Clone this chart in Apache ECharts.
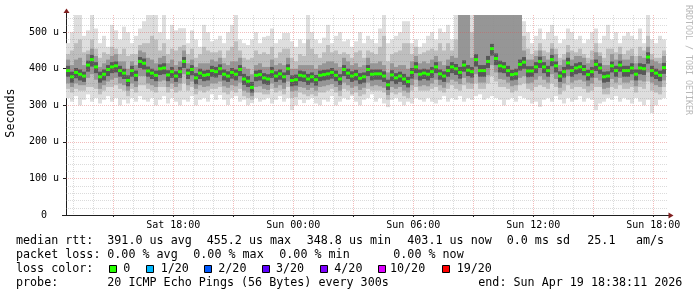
<!DOCTYPE html>
<html><head><meta charset="utf-8">
<script src="https://cdn.jsdelivr.net/npm/echarts@6/dist/echarts.min.js"></script>
<style>html,body{margin:0;padding:0;background:#fff}#c{width:697px;height:297px}</style>
</head><body><div id="c"></div>
<script>
// time: hours counted from Sat 00:00 ; graph covers Sat 12:38:11 .. Sun 18:38:11
const START_H = 12 + 38 / 60 + 11 / 3600;
const SPAN_H = 30;
const STEP_H = 0.2;

// median rtt per column (us)
const median = [
395,378,390,385,380,410,425,405,378,385,
398,405,408,395,388,368,395,382,420,415,
394,388,382,400,402,383,392,380,392,420,
388,398,375,388,382,384,395,392,400,385,
380,390,385,398,372,366,349,382,384,375,
372,392,380,386,378,400,368,370,382,380,
372,378,370,382,384,386,390,382,372,398,
388,380,384,374,378,398,385,386,386,380,
356,383,375,380,372,365,390,405,385,388,
385,392,405,386,380,395,405,400,390,410,
396,392,425,395,395,420,455,428,408,405,
395,384,386,412,418,394,394,405,420,405,
395,425,408,380,392,416,395,402,405,398,
384,392,412,402,378,380,408,395,410,395,
395,402,385,402,400,432,395,388,382,403];

// smoke: outermost (lightest) band
const smoke1Lo = [
320,310,325,300,315,330,310,320,305,315,
325,310,320,300,315,305,320,310,325,315,
310,320,300,315,325,305,320,310,300,315,
310,325,300,315,320,310,330,315,328,315,
301,320,325,310,315,300,306,320,310,315,
320,305,315,325,310,320,287,300,315,306,
315,320,305,300,315,310,325,300,310,320,
315,325,310,300,315,320,330,310,320,305,
295,315,320,310,300,310,305,320,315,310,
320,310,305,315,325,310,320,315,325,310,
320,315,325,330,315,320,325,320,315,300,
315,320,310,325,320,315,305,310,296,315,
320,310,325,315,305,320,310,315,325,310,
320,315,287,305,310,320,315,325,310,320,
315,305,320,310,300,315,279,300,315,320];
const smoke1Hi = [
470,500,560,560,490,505,560,510,470,490,
460,520,505,480,515,500,470,490,510,530,
560,560,560,500,560,480,520,505,511,511,
470,505,480,460,520,500,475,480,490,470,
500,520,560,480,470,465,480,500,470,487,
490,510,470,480,498,498,475,460,480,470,
560,500,480,470,485,520,470,490,500,475,
480,460,475,500,470,490,480,470,510,560,
470,480,490,500,530,530,470,480,460,470,
490,500,480,510,500,520,480,560,560,560,
560,560,560,560,560,560,560,560,560,560,
560,560,560,560,530,500,470,490,510,480,
500,520,490,470,480,510,500,480,490,470,
480,500,510,470,490,520,480,500,470,490,
500,490,480,510,470,560,480,470,490,480];
// second band
const smoke2Lo = [
345,335,345,340,340,350,350,345,330,340,
350,350,355,345,340,325,345,335,355,355,
345,340,335,350,350,335,345,335,340,360,
340,350,330,340,335,340,345,345,350,335,
330,340,335,345,325,320,315,335,335,330,
330,345,335,340,330,350,320,322,335,330,
325,330,325,335,335,340,345,335,325,345,
340,330,335,325,330,345,340,340,340,335,
315,335,330,335,325,320,340,350,340,340,
340,345,350,340,335,345,355,345,340,355,
345,345,360,345,345,360,380,365,350,350,
345,335,340,355,360,345,340,350,355,350,
345,360,350,330,340,355,345,350,350,345,
335,340,350,350,330,330,350,345,355,345,
345,350,335,350,345,365,340,335,330,350];
const smoke2Hi = [
440,450,470,480,445,450,480,455,430,445,
440,460,455,440,455,435,440,440,465,470,
470,490,480,450,470,440,455,450,460,465,
440,455,430,440,460,450,445,445,450,430,
450,460,475,450,430,425,430,450,440,445,
440,460,430,445,455,455,430,420,440,435,
480,455,440,430,445,465,445,450,440,445,
440,430,445,450,430,450,445,440,460,490,
420,440,445,450,470,470,440,460,440,445,
450,455,450,470,450,470,450,480,560,560,
480,500,560,560,560,560,560,560,560,560,
560,560,560,560,490,455,440,450,470,450,
445,470,455,430,440,465,450,445,455,440,
430,450,470,445,430,455,455,445,460,440,
450,455,435,460,450,490,440,430,430,450];
// third band
const smoke3Lo = [
360,350,360,355,355,375,385,370,345,355,
365,370,375,360,355,340,360,350,380,380,
360,355,350,365,368,350,360,350,360,385,
355,365,345,355,350,352,360,360,365,352,
348,355,352,362,340,335,325,350,352,345,
342,360,348,355,345,365,338,340,350,348,
342,348,340,350,352,355,358,350,340,362,
355,348,352,342,348,362,352,355,352,348,
328,350,345,350,340,335,355,370,352,355,
352,360,370,355,348,362,370,365,358,375,
362,360,385,362,362,382,410,390,372,370,
362,352,355,375,380,360,362,370,380,370,
362,385,372,348,360,380,362,368,370,365,
352,360,375,368,345,348,372,362,375,362,
362,368,352,368,365,390,362,355,350,368];
const smoke3Hi = [
425,410,425,430,410,440,455,435,405,415,
425,435,440,420,420,400,420,410,450,445,
430,425,415,430,435,415,425,410,420,450,
415,425,405,415,415,415,425,420,430,415,
410,420,420,430,405,400,385,410,415,405,
405,425,410,415,410,430,400,400,410,410,
410,410,400,410,415,420,420,415,405,430,
420,410,415,405,410,430,415,415,420,410,
390,415,405,410,410,400,420,435,415,420,
415,425,435,420,410,425,435,430,560,560,
560,430,560,560,560,560,560,560,560,560,
560,560,560,560,450,425,425,435,450,435,
425,455,440,410,425,445,425,435,435,430,
415,425,445,435,410,410,440,425,440,425,
425,435,415,435,430,460,425,420,415,435];
// innermost (darkest) band
const smoke4Lo = [
378,362,374,368,364,392,406,388,362,368,
380,388,390,378,372,352,378,366,402,398,
378,372,366,383,385,366,375,364,375,402,
372,382,358,372,366,368,378,376,383,368,
364,373,368,380,356,350,335,366,368,358,
356,375,364,370,362,383,352,354,366,364,
356,362,354,366,368,370,373,366,356,380,
372,364,368,358,362,380,368,370,370,364,
342,366,358,364,356,349,373,388,368,372,
368,375,388,370,364,378,388,383,373,392,
380,376,406,378,378,402,436,410,390,388,
378,368,370,395,400,377,378,388,402,388,
378,407,390,364,376,398,378,385,388,382,
368,376,394,386,362,364,390,378,392,378,
378,385,368,385,383,414,378,372,366,386];
const smoke4Hi = [
408,392,402,398,392,422,438,418,392,398,
410,418,420,408,400,382,408,395,432,428,
406,400,395,412,415,396,405,393,405,432,
400,410,388,400,395,397,408,405,412,398,
393,402,398,410,386,380,364,395,397,388,
385,405,393,398,390,412,382,384,395,393,
386,390,383,395,397,398,402,395,385,410,
400,393,397,388,390,410,398,398,398,393,
370,396,388,392,386,378,402,418,398,400,
398,405,418,398,393,408,418,413,405,423,
410,405,440,410,410,435,468,442,422,418,
408,397,400,425,432,407,407,418,433,418,
408,438,420,393,405,430,408,415,418,410,
397,405,425,415,392,393,420,408,422,408,
408,415,398,415,413,445,408,400,395,416];

// tick labels
const xLabelHours = [18, 24, 30, 36, 42];
const xLabelTexts = ['Sat 18:00', 'Sun 00:00', 'Sun 06:00', 'Sun 12:00', 'Sun 18:00'];
const yLabelValues = [0, 100, 200, 300, 400, 500];

// legend texts
const lossColors = ['#26ff00', '#00b8ff', '#0059ff', '#5e00ff', '#7e00ff', '#dd00ff', '#ff0000'];
const lossLabels = ['0', '1/20', '2/20', '3/20', '4/20', '10/20', '19/20'];

const MONO = 'DejaVu Sans Mono';
const chart = echarts.init(document.getElementById('c'), null, {renderer: 'canvas'});

function clipTo(params, shape) {
  const cs = params.coordSys;
  return echarts.graphic.clipRectByRect(shape, {x: cs.x, y: cs.y, width: cs.width, height: cs.height});
}
function bandSeries(lo, hi, color, z) {
  return {
    type: 'custom', silent: true, z: z, animation: false,
    data: lo.map((v, i) => [START_H + i * STEP_H, START_H + (i + 1) * STEP_H, v, hi[i]]),
    encode: {x: [0, 1], y: [2, 3]},
    renderItem(params, api) {
      const a = api.coord([api.value(0), api.value(3)]);
      const b = api.coord([api.value(1), api.value(2)]);
      const shape = clipTo(params, {x: a[0], y: a[1], width: b[0] - a[0], height: b[1] - a[1]});
      return shape && {type: 'rect', shape: shape, style: {fill: color}};
    }
  };
}
const medianSeries = {
  type: 'custom', silent: true, z: 10, animation: false,
  data: median.map((v, i) => [START_H + i * STEP_H, START_H + (i + 1) * STEP_H, v]),
  encode: {x: [0, 1], y: 2},
  renderItem(params, api) {
    const a = api.coord([api.value(0), api.value(2)]);
    const b = api.coord([api.value(1), api.value(2)]);
    return {type: 'rect', shape: {x: a[0], y: a[1] - 1.5, width: b[0] - a[0], height: 3}, style: {fill: lossColors[0]}};
  }
};
// grid lines: [orientation (0 vertical, 1 horizontal), value, major]
const gridData = [];
for (let h = Math.ceil(START_H); h < START_H + SPAN_H; h++) gridData.push([0, h, h % 3 === 0 ? 1 : 0]);
for (let u = 20; u <= 540; u += 20) gridData.push([1, u, u % 100 === 0 ? 1 : 0]);
const gridSeries = {
  type: 'custom', silent: true, z: 20, animation: false,
  data: gridData,
  renderItem(params, api) {
    const cs = params.coordSys;
    const o = api.value(0), v = api.value(1), major = api.value(2);
    let shape;
    if (o === 0) {
      const x = Math.round(api.coord([v, 0])[0]) + 0.5;
      shape = {x1: x, y1: cs.y, x2: x, y2: cs.y + cs.height};
    } else {
      const y = Math.round(api.coord([START_H, v])[1]) + 0.5;
      shape = {x1: cs.x, y1: y, x2: cs.x + cs.width + 2, y2: y};
    }
    return {type: 'line', shape: shape, style: {stroke: major ? 'rgba(222,79,79,0.38)' : 'rgba(143,143,143,0.32)', lineWidth: 1, lineDash: [1, 1]}};
  }
};

const legendRows = [
  [241, [[16, 'median rtt:'], [107.3, '391.0 us avg'], [206.7, '455.2 us max'], [306.7, '348.8 us min'], [407.3, '403.1 us now'], [506.7, '0.0 ms sd'], [587.3, '25.1'], [636, 'am/s']]],
  [255, [[16, 'packet loss:'], [107.3, '0.00 % avg'], [193.3, '0.00 % max'], [279.3, '0.00 % min'], [393.3, '0.00 % now']]],
  [269, [[16, 'loss color:']]],
  [282.5, [[16, 'probe:'], [107.3, '20 ICMP Echo Pings (56 Bytes) every 300s'], [478.3, 'end: Sun Apr 19 18:38:11 2026']]]
];
const graphics = [];
legendRows.forEach(([y, items]) => items.forEach(([x, t]) => graphics.push({
  type: 'text', x: x, y: y, silent: true,
  style: {text: t, fontFamily: MONO, fontSize: 11.7, fill: '#000', align: 'left', verticalAlign: 'middle'}
})));
const boxX = [108.5, 146, 204, 262, 320, 377.5, 441.5];
const boxLabelX = [123.3, 160.7, 218.3, 276, 334.3, 390, 456.7];
lossColors.forEach((c, i) => {
  graphics.push({type: 'rect', silent: true, shape: {x: Math.round(boxX[i]) + 0.5, y: 265.5, width: 7, height: 7}, style: {fill: c, stroke: '#000', lineWidth: 1}});
  graphics.push({type: 'text', silent: true, x: boxLabelX[i], y: 269, style: {text: lossLabels[i], fontFamily: MONO, fontSize: 11.7, fill: '#000', verticalAlign: 'middle'}});
});
graphics.push({type: 'text', silent: true, x: 11, y: 113, rotation: Math.PI / 2,
  style: {text: 'Seconds', fontFamily: MONO, fontSize: 11.7, fill: '#000', align: 'center', verticalAlign: 'middle'}});
graphics.push({type: 'text', silent: true, x: 688, y: 5, rotation: -Math.PI / 2,
  style: {text: 'RRDTOOL / TOBI OETIKER', fontFamily: MONO, fontSize: 8.3, fill: '#b8b8b8', align: 'left', verticalAlign: 'middle'}});
// axis arrows
graphics.push({type: 'line', silent: true, z: 30, shape: {x1: 66.5, y1: 15, x2: 66.5, y2: 12}, style: {stroke: '#1f1f1f', lineWidth: 1}});
graphics.push({type: 'polygon', silent: true, z: 30, shape: {points: [[63.5, 13], [69.5, 13], [66.5, 8.5]]}, style: {fill: '#801f1f'}});
graphics.push({type: 'line', silent: true, z: 30, shape: {x1: 62, y1: 215.5, x2: 669, y2: 215.5}, style: {stroke: '#1f1f1f', lineWidth: 1}});
graphics.push({type: 'polygon', silent: true, z: 30, shape: {points: [[668.5, 212.5], [668.5, 218.5], [673.5, 215.5]]}, style: {fill: '#801f1f'}});

chart.setOption({
  animation: false,
  backgroundColor: '#fff',
  grid: {left: 66, right: 31, top: 15, bottom: 82},
  xAxis: {
    type: 'value', min: START_H, max: START_H + SPAN_H,
    axisLine: {show: true, lineStyle: {color: '#1f1f1f', width: 1}},
    axisTick: {show: true, customValues: [15, 18, 21, 24, 27, 30, 33, 36, 39, 42], length: 2, lineStyle: {color: '#1f1f1f'}},
    axisLabel: {
      customValues: xLabelHours, margin: 5,
      formatter: v => xLabelTexts[xLabelHours.indexOf(Math.round(v))] || '',
      fontFamily: MONO, fontSize: 10, color: '#000'
    },
    splitLine: {show: false}
  },
  yAxis: {
    type: 'value', min: 0, max: 547,
    axisLine: {show: true, lineStyle: {color: '#1f1f1f', width: 1}},
    axisTick: {show: true, customValues: yLabelValues, length: 3, lineStyle: {color: '#1f1f1f'}},
    axisLabel: {
      customValues: yLabelValues, margin: 7,
      formatter: v => (v === 0 ? '0  ' : v + ' u'),
      fontFamily: MONO, fontSize: 10, color: '#000'
    },
    splitLine: {show: false}
  },
  series: [
    bandSeries(smoke1Lo, smoke1Hi, '#dedede', 1),
    bandSeries(smoke2Lo, smoke2Hi, '#bebebe', 2),
    bandSeries(smoke3Lo, smoke3Hi, '#969696', 3),
    bandSeries(smoke4Lo, smoke4Hi, '#585858', 4),
    medianSeries,
    gridSeries
  ],
  graphic: graphics
});
</script></body></html>
